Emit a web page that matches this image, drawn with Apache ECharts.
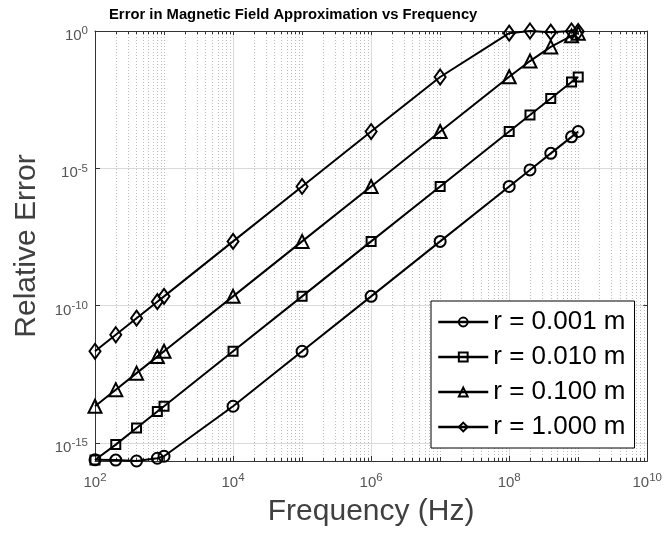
<!DOCTYPE html>
<html>
<head>
<meta charset="utf-8">
<script src="https://cdn.jsdelivr.net/npm/echarts@6/dist/echarts.min.js"></script>
<style>
html,body{margin:0;padding:0;background:#fff;}
#chart{width:665px;height:544px;}
</style>
</head>
<body>
<div id="chart"></div>
<script>
// ---- data ----
const frequencies = [1e2, 2e2, 4e2, 8e2, 1e3, 1e4, 1e5, 1e6, 1e7, 1e8, 2e8, 4e8, 8e8, 1e9];
const seriesNames = ['r = 0.001 m', 'r = 0.010 m', 'r = 0.100 m', 'r = 1.000 m'];
const errR0001 = [2.45e-16, 2.4e-16, 2.22e-16, 2.8e-16, 3.3e-16, 2.19e-14, 2.19e-12, 2.19e-10, 2.19e-8, 2.19e-6, 8.77e-6, 3.51e-5, 1.40e-4, 2.19e-4];
const errR0010 = [2.4e-16, 8.77e-16, 3.51e-15, 1.40e-14, 2.19e-14, 2.19e-12, 2.19e-10, 2.19e-8, 2.19e-6, 2.19e-4, 8.77e-4, 3.5e-3, 1.40e-2, 2.12e-2];
const errR0100 = [2.19e-14, 8.77e-14, 3.51e-13, 1.40e-12, 2.19e-12, 2.19e-10, 2.19e-8, 2.19e-6, 2.19e-4, 2.17e-2, 8.05e-2, 0.264, 0.665, 0.835];
const errR1000 = [2.19e-12, 8.77e-12, 3.51e-11, 1.40e-10, 2.19e-10, 2.19e-8, 2.19e-6, 2.19e-4, 2.12e-2, 0.835, 1.0, 0.908, 1.0, 0.96];
const xTickExponents = [2, 4, 6, 8, 10];
const yTickExponents = [0, -5, -10, -15];
const xMin = 1e2, xMax = 1e10;
const yMin = 2.22e-16, yMax = 1;

// log axis ticks lose precision below 1e-10, so values are shifted by a power of 1e5
const SHIFT_EXP = 20;
const SHIFT = Math.pow(10, SHIFT_EXP);

const chart = echarts.init(document.getElementById('chart'));

const labelColor = '#555';
const labelRich = {
  b: {fontSize: 15, color: labelColor, fontFamily: 'Liberation Sans', padding: [10, 0, 0, 0]},
  e: {fontSize: 11.5, color: labelColor, fontFamily: 'Liberation Sans'}
};
function isInt(x) { return Math.abs(x - Math.round(x)) < 1e-6; }
function xFmt(v) {
  const l = Math.log10(v);
  if (!isInt(l)) return '';
  const e = Math.round(l);
  if (xTickExponents.indexOf(e) < 0) return '';
  return '{b|10}{e|' + e + '}';
}
function yFmt(v) {
  const l = Math.log10(v);
  if (!isInt(l)) return '';
  const e = Math.round(l) - SHIFT_EXP;
  if (yTickExponents.indexOf(e) < 0) return '';
  return '{b|10}{e|' + e + '}';
}

const axisColor = '#333';
const dotted = {color: '#bdbdbd', width: 1, type: [1, 2]};
const solid = {color: '#dadada', width: 1, type: 'solid'};

const xCommon = {type: 'log', min: xMin, max: xMax, logBase: 10, splitNumber: 8};
const yCommon = {type: 'log', min: yMin * SHIFT, max: yMax * SHIFT};

const markers = [
  {symbol: 'circle', size: 11},
  {symbol: 'rect', size: 9},
  {symbol: 'triangle', size: 13},
  {symbol: 'diamond', size: [11, 15]}
];
const allErr = [errR0001, errR0010, errR0100, errR1000];

const series = seriesNames.map((name, k) => ({
  type: 'line',
  name: name,
  xAxisIndex: 0,
  yAxisIndex: 0,
  data: frequencies.map((f, i) => [f, allErr[k][i] * SHIFT]),
  symbol: markers[k].symbol,
  symbolSize: markers[k].size,
  showAllSymbol: true,
  clip: false,
  lineStyle: {color: '#000', width: 2},
  itemStyle: {color: 'rgba(255,255,255,0)', borderColor: '#000', borderWidth: 2},
  emphasis: {disabled: true},
  z: 5
}));

const option = {
  animation: false,
  backgroundColor: '#fff',
  title: {
    text: 'Error in Magnetic Field Approximation vs Frequency',
    left: 104, top: 2,
    textStyle: {fontFamily: 'Liberation Sans Narrow, Liberation Sans', fontWeight: 'bold', fontSize: 14.8, color: '#000'}
  },
  grid: {left: 95, right: 17, top: 31, bottom: 83, containLabel: false},
  legend: {
    orient: 'vertical',
    left: 431, top: 301,
    padding: [8, 9, 8, 6],
    itemGap: 9,
    itemWidth: 50,
    itemHeight: 11,
    itemTextGap: 3,
    borderColor: '#000', borderWidth: 1,
    backgroundColor: '#fff',
    lineStyle: {width: 2.5},
    textStyle: {fontSize: 26, color: '#000', fontFamily: 'Liberation Sans', lineHeight: 26},
    data: seriesNames,
    z: 10
  },
  xAxis: [
    Object.assign({}, xCommon, {
      position: 'bottom',
      axisLine: {show: true, lineStyle: {color: axisColor, width: 1}},
      axisTick: {show: true, inside: true, length: 4, lineStyle: {color: axisColor}},
      minorTick: {show: true, splitNumber: 9, length: 3, lineStyle: {color: axisColor}},
      axisLabel: {show: false},
      splitLine: {show: true, lineStyle: dotted},
      minorSplitLine: {show: true, lineStyle: dotted}
    }),
    {
      type: 'log', min: xMin, max: xMax, logBase: 100,
      position: 'bottom',
      name: 'Frequency (Hz)', nameLocation: 'middle', nameGap: 36,
      nameTextStyle: {fontSize: 30, color: '#404040', fontFamily: 'Liberation Sans'},
      axisLine: {show: false},
      axisTick: {show: true, inside: true, length: 5, lineStyle: {color: axisColor}},
      axisLabel: {show: true, margin: 4, formatter: xFmt, rich: labelRich},
      splitLine: {show: true, lineStyle: solid}
    },
    Object.assign({}, xCommon, {
      position: 'top',
      axisLine: {show: true, lineStyle: {color: axisColor, width: 1}},
      axisTick: {show: true, inside: true, length: 4, lineStyle: {color: axisColor}},
      minorTick: {show: true, splitNumber: 9, length: 3, lineStyle: {color: axisColor}},
      axisLabel: {show: false},
      splitLine: {show: false}
    })
  ],
  yAxis: [
    Object.assign({}, yCommon, {
      logBase: 10, splitNumber: 16,
      position: 'left',
      axisLine: {show: true, lineStyle: {color: axisColor, width: 1}},
      axisTick: {show: true, inside: true, length: 4, lineStyle: {color: axisColor}},
      axisLabel: {show: false},
      splitLine: {show: true, lineStyle: dotted}
    }),
    Object.assign({}, yCommon, {
      logBase: 100000, splitNumber: 4,
      position: 'left',
      name: 'Relative Error', nameLocation: 'middle', nameGap: 53, nameRotate: 90,
      nameTextStyle: {fontSize: 30, color: '#404040', fontFamily: 'Liberation Sans'},
      axisLine: {show: false},
      axisTick: {show: true, inside: true, length: 5, lineStyle: {color: axisColor}},
      axisLabel: {show: true, margin: 7, formatter: yFmt, rich: labelRich, showMinLabel: false},
      splitLine: {show: true, lineStyle: solid}
    }),
    Object.assign({}, yCommon, {
      logBase: 10, splitNumber: 16,
      position: 'right',
      axisLine: {show: true, lineStyle: {color: axisColor, width: 1}},
      axisTick: {show: true, inside: true, length: 4, lineStyle: {color: axisColor}},
      axisLabel: {show: false},
      splitLine: {show: false}
    })
  ],
  series: series
};
chart.setOption(option);
</script>
</body>
</html>
